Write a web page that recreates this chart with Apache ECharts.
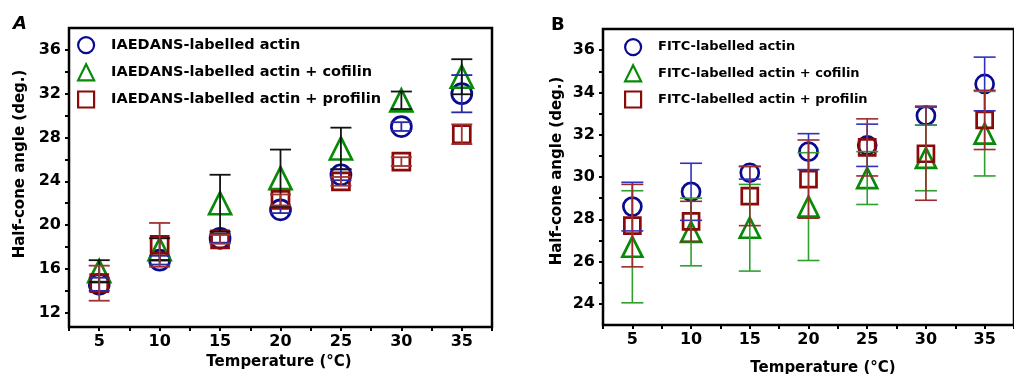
<!DOCTYPE html>
<html>
<head>
<meta charset="utf-8">
<script src="https://cdn.jsdelivr.net/npm/echarts@6/dist/echarts.min.js"></script>
<style>html,body{margin:0;padding:0;background:#fff}#c{width:1014px;height:374px}</style>
</head>
<body>
<div id="c"></div>
<script>
// ---- data ----
const temps = [5, 10, 15, 20, 25, 30, 35];

const namesA = ['IAEDANS-labelled actin', 'IAEDANS-labelled actin + cofilin', 'IAEDANS-labelled actin + profilin'];
const aActin = [14.6, 16.8, 18.8, 21.4, 24.6, 29.0, 32.0];
const aActinErr = [0.6, 0.4, 0.4, 0.3, 0.5, 0.4, 1.7];
const aCofilin = [15.8, 17.8, 22.0, 24.3, 27.0, 31.4, 33.55];
const aCofilinErr = [1.0, 1.0, 2.6, 2.6, 1.9, 0.8, 1.6];
const aProfilin = [14.7, 18.2, 18.7, 22.3, 24.0, 25.8, 28.3];
const aProfilinErr = [1.6, 2.0, 0.4, 0.5, 0.4, 0.4, 0.9];

const namesB = ['FITC-labelled actin', 'FITC-labelled actin + cofilin', 'FITC-labelled actin + profilin'];
const bActin = [28.6, 29.3, 30.2, 31.2, 31.5, 32.9, 34.4];
const bActinErr = [1.15, 1.35, 0.3, 0.85, 1.0, 0.45, 1.27];
const bCofilin = [26.7, 27.4, 27.6, 28.6, 29.95, 30.9, 32.05];
const bCofilinErr = [2.65, 1.6, 2.05, 2.55, 1.25, 1.55, 2.0];
const bProfilin = [27.7, 27.9, 29.1, 29.9, 31.4, 31.1, 32.7];
const bProfilinErr = [1.95, 0.95, 1.4, 1.85, 1.35, 2.2, 1.4];

const xTickValues = [2.5, 5, 7.5, 10, 12.5, 15, 17.5, 20, 22.5, 25, 27.5, 30, 32.5, 35, 37.5];
const xLabelValues = [5, 10, 15, 20, 25, 30, 35];
const yTickA = [12, 14, 16, 18, 20, 22, 24, 26, 28, 30, 32, 34, 36];
const yLabelA = [12, 16, 20, 24, 28, 32, 36];
const yTickB = [24, 25, 26, 27, 28, 29, 30, 31, 32, 33, 34, 35, 36];
const yLabelB = [24, 26, 28, 30, 32, 34, 36];

// ---- styles ----
const FONT = '"DejaVu Sans", sans-serif';
const C_BLUE = '#0a0a90', C_GREEN = '#078a07', C_RED = '#8a0a0a';

function xAxisOf(gi) {
  return {
    type: 'value', gridIndex: gi, min: 2.5, max: 37.5,
    axisLine: {show: false},
    axisTick: {show: true, length: 4, inside: false, customValues: xTickValues, lineStyle: {color: '#000', width: 2}},
    axisLabel: {customValues: xLabelValues, margin: 7, color: '#000', fontFamily: FONT, fontWeight: 'bold', fontSize: 16},
    splitLine: {show: false}
  };
}
function yAxisOf(gi, min, max, ticks, labels) {
  return {
    type: 'value', gridIndex: gi, min: min, max: max,
    axisLine: {show: false},
    axisTick: {show: true, length: 4, inside: false, customValues: ticks, lineStyle: {color: '#000', width: 2}},
    axisLabel: {customValues: labels, margin: 8, color: '#000', fontFamily: FONT, fontWeight: 'bold', fontSize: 16},
    splitLine: {show: false}
  };
}

function scatter(name, gi, ys, symbol, size, color) {
  return {
    name: name, type: 'scatter', xAxisIndex: gi, yAxisIndex: gi,
    symbol: symbol, symbolSize: size,
    itemStyle: {color: 'rgba(0,0,0,0)', borderColor: color, borderWidth: 2.7, opacity: 1},
    emphasis: {disabled: true},
    data: temps.map((t, i) => [t, ys[i]]),
    z: 3
  };
}
function errBars(id, gi, ys, es, color, cap, width) {
  return {
    id: id, type: 'custom', xAxisIndex: gi, yAxisIndex: gi,
    data: temps.map((t, i) => [t, ys[i] - es[i], ys[i] + es[i]]),
    encode: {x: 0, y: [1, 2]},
    silent: true, z: 4,
    renderItem: function (params, api) {
      const x = api.value(0);
      const lo = api.coord([x, api.value(1)]);
      const hi = api.coord([x, api.value(2)]);
      const h = cap / 2;
      const st = {stroke: color, lineWidth: width, fill: null};
      return {
        type: 'group',
        children: [
          {type: 'line', shape: {x1: lo[0], y1: lo[1], x2: hi[0], y2: hi[1]}, style: st},
          {type: 'line', shape: {x1: lo[0] - h, y1: lo[1], x2: lo[0] + h, y2: lo[1]}, style: st},
          {type: 'line', shape: {x1: hi[0] - h, y1: hi[1], x2: hi[0] + h, y2: hi[1]}, style: st}
        ]
      };
    }
  };
}

function legendOf(names, left, top, fontSize, gap) {
  const icons = ['circle', 'triangle', 'rect'];
  const cols = [C_BLUE, C_GREEN, C_RED];
  return {
    orient: 'vertical', left: left, top: top, padding: 0,
    itemWidth: 16, itemHeight: 16, itemGap: gap,
    selectedMode: false,
    textStyle: {fontFamily: FONT, fontWeight: 'bold', fontSize: fontSize, color: '#000', padding: [0, 0, 0, 12]},
    data: names.map((n, i) => ({
      name: n, icon: icons[i],
      itemStyle: {color: 'rgba(0,0,0,0)', borderColor: cols[i], borderWidth: 2.2, opacity: 1}
    }))
  };
}

const option = {
  animation: false,
  backgroundColor: '#fff',
  grid: [
    {left: 69, top: 28, width: 423, height: 299, show: true, borderColor: '#000', borderWidth: 2.5, backgroundColor: 'transparent'},
    {left: 603, top: 29, width: 423, height: 296, show: true, borderColor: '#000', borderWidth: 2.5, backgroundColor: 'transparent'}
  ],
  xAxis: [xAxisOf(0), xAxisOf(1)],
  yAxis: [yAxisOf(0, 10.7, 38, yTickA, yLabelA), yAxisOf(1, 23, 37, yTickB, yLabelB)],
  legend: [legendOf(namesA, 77, 36, 14.5, 9), legendOf(namesB, 624, 38, 13, 8)],
  series: [
    scatter(namesA[0], 0, aActin, 'circle', 20, C_BLUE),
    scatter(namesA[1], 0, aCofilin, 'triangle', 22, C_GREEN),
    scatter(namesA[2], 0, aProfilin, 'rect', 17, C_RED),
    errBars('eA1', 0, aActin, aActinErr, '#2a2aa6', 21, 1.8),
    errBars('eA2', 0, aCofilin, aCofilinErr, '#111', 21, 1.8),
    errBars('eA3', 0, aProfilin, aProfilinErr, '#a03333', 21, 1.8),
    scatter(namesB[0], 1, bActin, 'circle', 18, C_BLUE),
    scatter(namesB[1], 1, bCofilin, 'triangle', 20, C_GREEN),
    scatter(namesB[2], 1, bProfilin, 'rect', 16, C_RED),
    errBars('eB1', 1, bActin, bActinErr, '#3030c0', 22, 1.6),
    errBars('eB2', 1, bCofilin, bCofilinErr, '#2fa02f', 22, 1.6),
    errBars('eB3', 1, bProfilin, bProfilinErr, '#9a2b2b', 22, 1.6)
  ],
  graphic: [
    {type: 'text', left: 13, top: 15, style: {text: 'A', font: 'italic bold 18px ' + FONT, fill: '#000'}},
    {type: 'text', left: 551, top: 16, style: {text: 'B', font: 'bold 18px ' + FONT, fill: '#000'}},
    {type: 'text', x: 20, y: 164, rotation: Math.PI / 2, style: {text: 'Half-cone angle (deg.)', font: 'bold 15px ' + FONT, fill: '#000', align: 'center', verticalAlign: 'middle'}},
    {type: 'text', x: 557, y: 171, rotation: Math.PI / 2, style: {text: 'Half-cone angle (deg.)', font: 'bold 15px ' + FONT, fill: '#000', align: 'center', verticalAlign: 'middle'}},
    {type: 'text', x: 279, y: 362, style: {text: 'Temperature (°C)', font: 'bold 15px ' + FONT, fill: '#000', align: 'center', verticalAlign: 'middle'}},
    {type: 'text', x: 823, y: 368, style: {text: 'Temperature (°C)', font: 'bold 15px ' + FONT, fill: '#000', align: 'center', verticalAlign: 'middle'}}
  ]
};

const chart = echarts.init(document.getElementById('c'), null, {renderer: 'canvas'});
chart.setOption(option);
</script>
</body>
</html>
